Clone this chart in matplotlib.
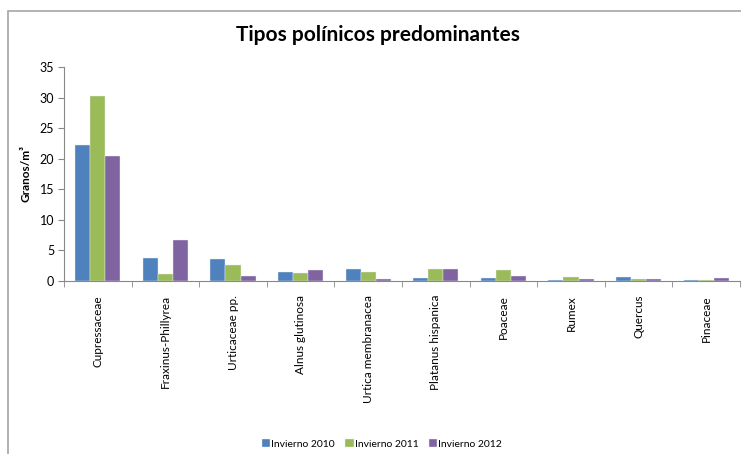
import numpy as np
import matplotlib
matplotlib.use("Agg")
import matplotlib.pyplot as plt
from matplotlib.patches import Rectangle

plt.rcParams['font.family'] = ['Lato', 'DejaVu Sans']

# data
categories = ['Cupressaceae', 'Fraxinus-Phillyrea', 'Urticaceae pp.', 'Alnus glutinosa',
              'Urtica membranacea', 'Platanus hispanica', 'Poaceae', 'Rumex',
              'Quercus', 'Pinaceae']
inv_2010 = [22.2, 3.7, 3.55, 1.5, 1.9, 0.5, 0.5, 0.2, 0.65, 0.2]
inv_2011 = [30.2, 1.1, 2.6, 1.25, 1.5, 2.0, 1.75, 0.65, 0.35, 0.2]
inv_2012 = [20.4, 6.65, 0.8, 1.75, 0.35, 2.0, 0.8, 0.35, 0.35, 0.5]
series = ['Invierno 2010', 'Invierno 2011', 'Invierno 2012']
colors = ['#4F81BD', '#9BBB59', '#8064A2']

fig = plt.figure(figsize=(7.41, 4.54), dpi=100)
W, H = 741, 454
ax = fig.add_axes([64 / W, 1 - 281 / H, (740 - 64) / W, (281 - 67) / H])

x = np.arange(len(categories))
bw = 0.222
for i, (vals, name, c) in enumerate(zip([inv_2010, inv_2011, inv_2012], series, colors)):
    ax.bar(x + (i - 1) * bw, vals, bw, color=c, edgecolor='#E8EEF6', linewidth=0.3,
           label=name, zorder=2)

ax.set_xlim(-0.5, len(categories) - 0.5)
ax.set_ylim(0, 35)
ax.set_yticks(range(0, 36, 5))
ax.set_xticks(x)
ax.set_xticklabels(categories, rotation=90, fontsize=8.5, va='top')
ax.set_xticks(np.arange(-0.5, len(categories), 1), minor=True)
ax.tick_params(axis='x', which='major', length=0, pad=10)
ax.tick_params(axis='x', which='minor', length=4, color='#888888', direction='out')
ax.tick_params(axis='y', length=4, color='#888888', labelsize=9, pad=3)

for s in ['top', 'right']:
    ax.spines[s].set_visible(False)
for s in ['left', 'bottom']:
    ax.spines[s].set_color('#888888')

ax.set_ylabel('Granos/m³', fontsize=8.5, fontweight='bold', labelpad=6)

fig.text(378 / W, 1 - 35 / H, 'Tipos polínicos predominantes', ha='center', va='center',
         fontsize=15, fontweight='bold')

fig.legend(loc='center', bbox_to_anchor=(382 / W, 1 - 444 / H), ncol=3, frameon=False,
           fontsize=7.5, handlelength=0.8, handleheight=0.8, handletextpad=0.1,
           columnspacing=1.0)

# outer chart frame
fig.patches.append(Rectangle((7.5 / W, -0.1), 1.0, (1 - 10.5 / H) + 0.1,
                             transform=fig.transFigure, fill=False,
                             edgecolor='#A6A6A6', linewidth=1.2))

fig.savefig('out.png', dpi=100)
